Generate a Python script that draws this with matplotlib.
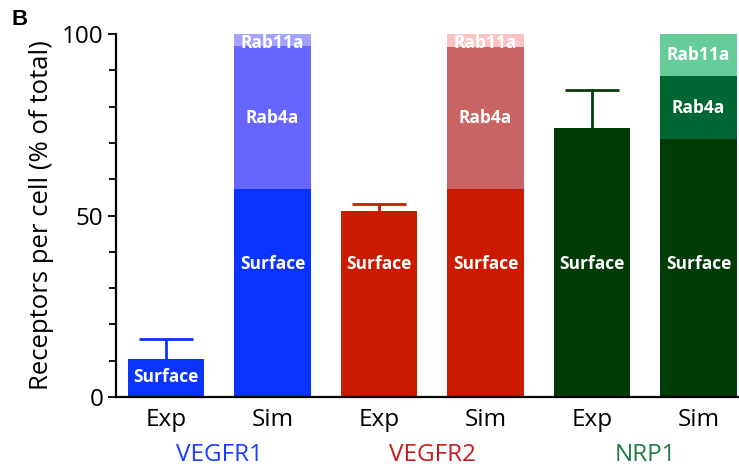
import matplotlib
matplotlib.use("Agg")
import matplotlib.pyplot as plt
from matplotlib.ticker import MultipleLocator

plt.rcParams["font.family"] = ["Open Sans", "DejaVu Sans"]

# Receptor distribution (% of total) per receptor, experiment vs simulation
receptors = ["VEGFR1", "VEGFR2", "NRP1"]
conditions = ["Exp", "Sim", "Exp", "Sim", "Exp", "Sim"]

exp_surface = [10.5, 51.2, 74.1]
exp_error = [5.5, 2.1, 10.6]

sim_surface = [57.4, 57.4, 71.1]
sim_rab4a = [39.2, 39.1, 17.2]
sim_rab11a = [3.4, 3.5, 11.7]

group_colors = ["#0a33ff", "#cc1a00", "#013c06"]
rab4a_colors = ["#6666ff", "#c86464", "#006633"]
rab11a_colors = ["#a3a3ff", "#f8c4c4", "#66cc99"]
name_colors = ["#1a3cff", "#cc1a1a", "#1f7a40"]

fig = plt.figure(figsize=(7.39, 4.68), dpi=100)
ax = fig.add_axes([0.157, 0.1517, 0.843, 0.7756])

width = 0.72
cap_half = 0.25
label_kw = dict(color="white", fontweight="bold", fontsize=12.5,
                ha="center", va="center")

for i, name in enumerate(receptors):
    xe = 2 * i
    xs = 2 * i + 1
    col = group_colors[i]

    # experimental bar with upper error whisker
    ax.bar(xe, exp_surface[i], width=width, color=col, zorder=2)
    top_err = exp_surface[i] + exp_error[i]
    ax.vlines(xe, exp_surface[i], top_err, colors=col, linewidth=2, zorder=1)
    ax.hlines(top_err, xe - cap_half, xe + cap_half, colors=col,
              linewidth=2, zorder=1)

    # simulated stacked bar
    ax.bar(xs, sim_surface[i], width=width, color=col, zorder=2)
    ax.bar(xs, sim_rab4a[i], bottom=sim_surface[i], width=width,
           color=rab4a_colors[i], zorder=2)
    top4 = sim_surface[i] + sim_rab4a[i]
    ax.bar(xs, sim_rab11a[i], bottom=top4, width=width,
           color=rab11a_colors[i], zorder=2)

    # segment labels
    if exp_surface[i] < 20:
        ax.text(xe, exp_surface[i] / 2 + 0.3, "Surface", **label_kw)
    else:
        ax.text(xe, 36.6, "Surface", **label_kw)
    ax.text(xs, 36.6, "Surface", **label_kw)
    ax.text(xs, sim_surface[i] + sim_rab4a[i] / 2, "Rab4a", **label_kw)
    rab11_y = top4 + sim_rab11a[i] / 2
    if sim_rab11a[i] < 6:
        rab11_y = 97.6
    ax.text(xs, rab11_y, "Rab11a", **label_kw)

    # receptor name below the pair
    ax.text(2 * i + 0.5, -0.16, name, transform=ax.get_xaxis_transform(),
            ha="center", va="center", fontsize=17.5, color=name_colors[i])

ax.set_xlim(-0.47, 5.38)
ax.set_ylim(0, 100)
ax.set_xticks(range(len(conditions)))
ax.set_xticklabels(conditions, fontsize=17.5)
ax.tick_params(axis="x", length=0, pad=8)

ax.yaxis.set_major_locator(MultipleLocator(50))
ax.yaxis.set_minor_locator(MultipleLocator(10))
ax.tick_params(axis="y", which="major", length=6, width=1.3, labelsize=17.5, pad=3)
ax.tick_params(axis="y", which="minor", length=5, width=1.3)

for side in ("top", "right"):
    ax.spines[side].set_visible(False)
for side in ("left", "bottom"):
    ax.spines[side].set_linewidth(1.6)

ax.set_ylabel("Receptors per cell (% of total)", fontsize=18.5, labelpad=6)

fig.text(0.016, 0.958, "B", fontsize=16, fontweight="bold",
         family=["Liberation Sans", "DejaVu Sans"], va="center")

fig.savefig("out.png", dpi=100)
